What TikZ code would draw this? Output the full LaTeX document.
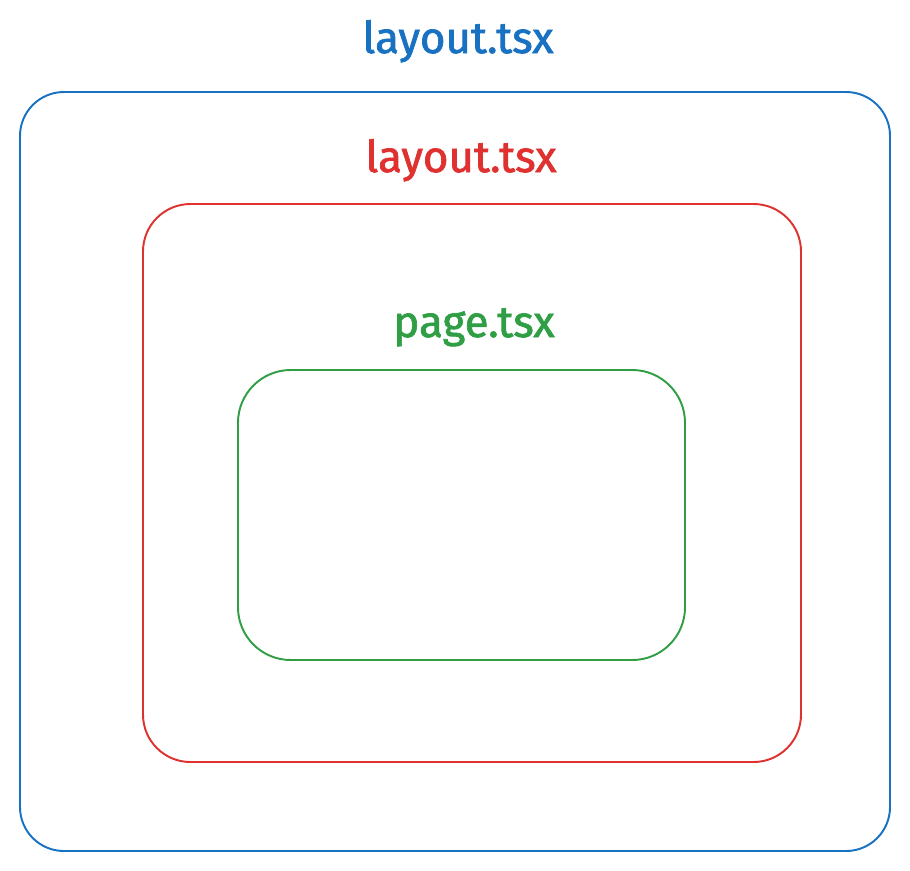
\documentclass[tikz,border=0pt]{standalone}
\usepackage{fontspec}
\setmainfont{Fira Sans}
\newfontfamily\titlefont{Fira Sans}[FakeBold=1.6]
\definecolor{lblue}{HTML}{1971C2}
\definecolor{lred}{HTML}{E03131}
\definecolor{lgreen}{HTML}{2F9E44}
\tikzset{
  frame/.style={line width=1.1pt, rounded corners=25pt},
  title/.style={font=\fontsize{25}{30}\selectfont\titlefont, anchor=base}
}

\begin{document}
\begin{tikzpicture}[x=0.02cm,y=-0.02cm]
\path (0,0) rectangle (910,870);
\draw[frame, lblue] (20,92) rectangle (890,851);
\draw[frame, lred, rounded corners=27pt] (143,204) rectangle (801,762);
\draw[frame, lgreen, rounded corners=30pt] (238,370) rectangle (685,660);
\node[title, text=lblue] (outertitle) at (458,53) {layout.tsx};
\node[title, text=lred] (innertitle) at (461,172) {layout.tsx};
\node[title, text=lgreen] (pagetitle) at (474,337) {page.tsx};
\end{tikzpicture}
\end{document}
